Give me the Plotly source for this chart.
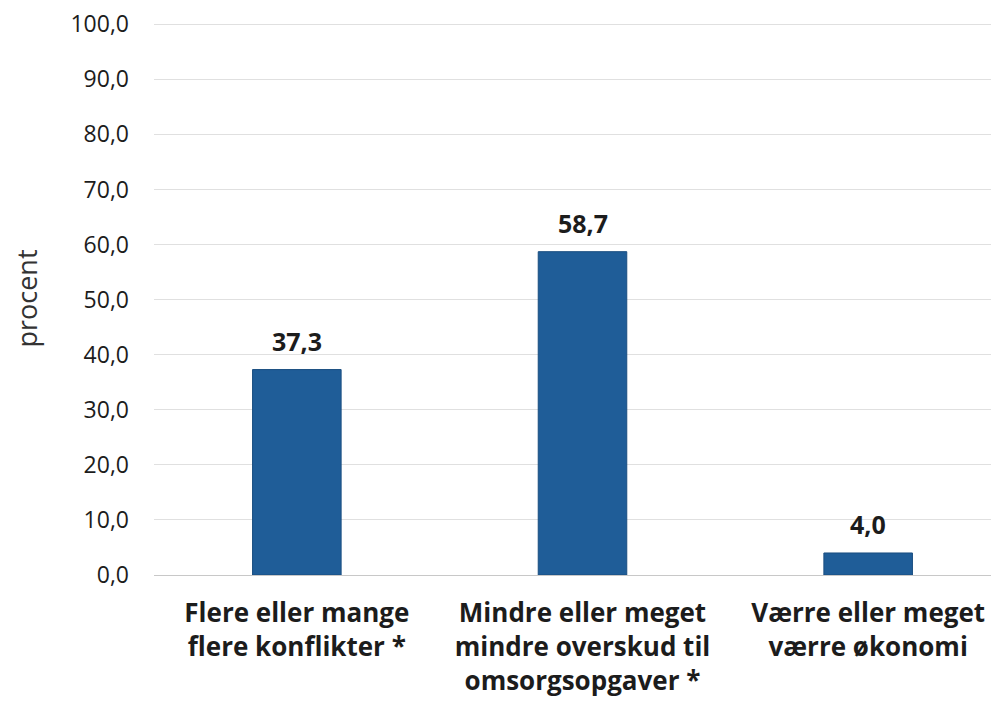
import plotly.graph_objects as go

categories = ["Flere eller mange<br>flere konflikter *",
              "Mindre eller meget<br>mindre overskud til<br>omsorgsopgaver *",
              "Værre eller meget<br>værre økonomi"]
values = [37.3, 58.7, 4.0]
y_ticks = [0, 10, 20, 30, 40, 50, 60, 70, 80, 90, 100]

FONT = "Open Sans"
TXT = "#1c1c1c"
x_pos = list(range(len(categories)))

fig = go.Figure(go.Bar(
    x=x_pos, y=values, width=0.31,
    marker=dict(color="#1F5D98", line=dict(color="#1a4e80", width=1)),
    hoverinfo="skip",
))

for xi, v in zip(x_pos, values):
    fig.add_annotation(
        x=xi, y=v, text="<b>" + f"{v:.1f}".replace(".", ",") + "</b>",
        showarrow=False, yanchor="bottom", yshift=10,
        font=dict(family=FONT, size=25, color=TXT),
    )

fig.update_layout(
    width=991, height=707,
    margin=dict(l=154, r=0, t=22, b=132),
    paper_bgcolor="white", plot_bgcolor="white",
    separators=",.",
    showlegend=False,
    font=dict(family=FONT, color=TXT),
)
fig.update_xaxes(
    tickmode="array", tickvals=x_pos,
    ticktext=["<b>" + c.replace("<br>", "</b><br><b>") + "</b>" for c in categories],
    range=[-0.5, 2.43], showgrid=False, ticks="", showline=False,
    tickfont=dict(family=FONT, size=26, color=TXT),
    ticklabelstandoff=20,
    automargin=False,
)
fig.update_yaxes(
    range=[0, 100.4], tickvals=y_ticks, tickformat=".1f",
    showgrid=True, gridcolor="#e0e0e0", gridwidth=1,
    zeroline=True, zerolinecolor="#c8c8c8", zerolinewidth=1,
    tickfont=dict(family=FONT, size=23, color=TXT),
    ticklabelstandoff=24,
    automargin=False,
    title=dict(text="procent", font=dict(family=FONT, size=27, color="#333333"), standoff=24),
)

fig.write_html("out.html", config={"displayModeBar": False},
               post_script="document.body.style.margin='0';")
